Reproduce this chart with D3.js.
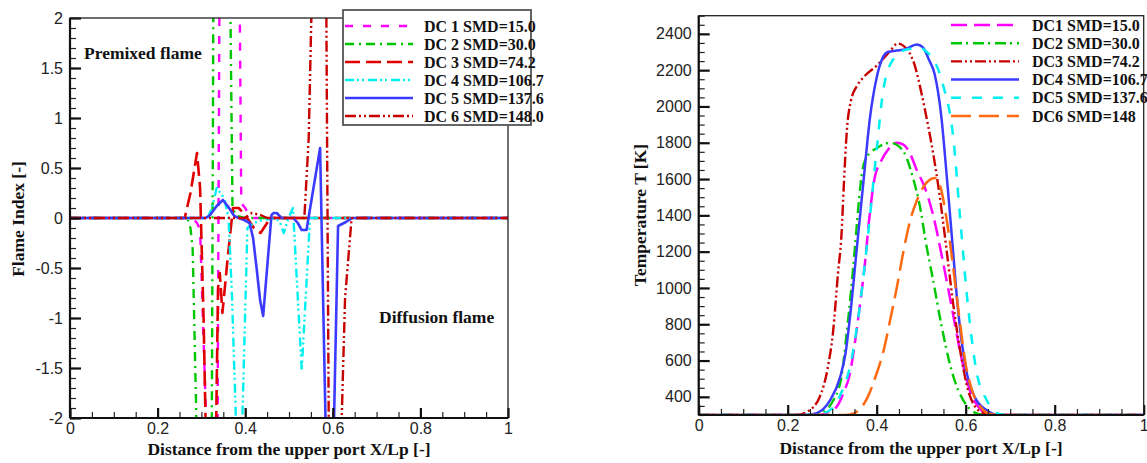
<!DOCTYPE html>
<html>
<head>
<meta charset="utf-8">
<script src="https://cdn.jsdelivr.net/npm/d3@7"></script>
<style>
  body { margin: 0; background: #fff; }
  .tick text { font-family: "Liberation Sans", Arial, sans-serif; font-size: 16px; fill: #222; }
  .ttl { font-family: "Liberation Serif", "Times New Roman", serif; font-weight: bold; fill: #111; }
</style>
</head>
<body>
<svg id="chart" width="1147" height="463"></svg>
<script>
// ---- left panel: flame index ----
var fiNames = ["DC 1 SMD=15.0", "DC 2 SMD=30.0", "DC 3 SMD=74.2", "DC 4 SMD=106.7", "DC 5 SMD=137.6", "DC 6 SMD=148.0"];
var fiXTicks = [0, 0.2, 0.4, 0.6, 0.8, 1];
var fiYTicks = [-2, -1.5, -1, -0.5, 0, 0.5, 1, 1.5, 2];

var fiDC1 = [[0,0],[0.28,0],[0.29,-0.05],[0.297,-0.12],[0.315,-2.6],[0.336,-3],[0.342,3],[0.386,3],[0.391,0.15],[0.40,0.1],[0.41,0.02],[0.42,0],[1,0]];
var fiDC2 = [[0,0],[0.268,0],[0.275,-0.1],[0.28,-0.3],[0.29,-2.3],[0.3,-3],[0.323,-3],[0.328,3],[0.364,3],[0.371,0.1],[0.38,0.02],[0.40,0],[1,0]];
var fiDC3 = [[0,0],[0.262,0],[0.275,0.25],[0.29,0.65],[0.297,0.3],[0.305,-1],[0.312,-2.6],[0.332,-2.6],[0.338,-0.7],[0.342,-0.55],[0.348,-0.95],[0.36,-0.4],[0.372,0.1],[0.385,0.1],[0.40,0.03],[0.42,-0.1],[0.435,-0.15],[0.45,-0.05],[0.46,0],[1,0]];
var fiDC4 = [[0,0],[0.315,0],[0.325,0.12],[0.335,0.3],[0.352,0.2],[0.362,0],[0.37,-0.8],[0.383,-2.6],[0.39,-2.6],[0.405,-0.1],[0.42,-0.05],[0.44,-0.02],[0.47,0],[0.48,-0.05],[0.488,-0.15],[0.497,-0.02],[0.509,0.1],[0.529,-1.52],[0.548,0],[1,0]];
var fiDC5 = [[0,0],[0.31,0],[0.32,0.03],[0.335,0.12],[0.349,0.18],[0.36,0.12],[0.375,0.02],[0.385,0],[0.398,-0.02],[0.41,-0.05],[0.418,-0.2],[0.426,-0.5],[0.434,-0.82],[0.441,-0.98],[0.46,0.03],[0.465,0.05],[0.472,0.05],[0.483,0],[0.51,0],[0.52,-0.05],[0.529,-0.12],[0.54,-0.12],[0.571,0.7],[0.586,-2.6],[0.6,-2.6],[0.612,-0.08],[0.63,-0.04],[0.645,0],[1,0]];
var fiDC6 = [[0,0],[0.40,0],[0.415,0.05],[0.435,0.03],[0.45,0],[0.535,0],[0.545,0.8],[0.556,3],[0.584,3],[0.592,-3],[0.614,-3],[0.628,-0.8],[0.643,0],[1,0]];

// ---- right panel: temperature ----
var tNames = ["DC1 SMD=15.0", "DC2 SMD=30.0", "DC3 SMD=74.2", "DC4 SMD=106.7", "DC5 SMD=137.6", "DC6 SMD=148"];
var tXTicks = [0, 0.2, 0.4, 0.6, 0.8, 1];
var tYTicks = [400, 600, 800, 1000, 1200, 1400, 1600, 1800, 2000, 2200, 2400];

var tDC1 = [[0,300],[0.27,300],[0.29,315],[0.31,345],[0.325,420],[0.34,530],[0.35,680],[0.362,900],[0.372,1100],[0.385,1420],[0.395,1600],[0.41,1700],[0.425,1760],[0.445,1800],[0.46,1790],[0.475,1740],[0.49,1650],[0.507,1560],[0.527,1400],[0.55,1130],[0.572,850],[0.59,620],[0.61,430],[0.63,340],[0.65,305],[0.67,300],[1,300]];
var tDC2 = [[0,300],[0.25,300],[0.28,320],[0.30,370],[0.32,500],[0.332,740],[0.343,1000],[0.352,1250],[0.36,1480],[0.368,1650],[0.38,1730],[0.40,1770],[0.43,1800],[0.45,1780],[0.465,1730],[0.48,1620],[0.497,1450],[0.512,1230],[0.527,1040],[0.545,800],[0.57,530],[0.60,360],[0.63,305],[0.65,300],[1,300]];
var tDC3 = [[0,300],[0.22,300],[0.245,320],[0.272,400],[0.29,560],[0.302,760],[0.313,1080],[0.321,1300],[0.326,1560],[0.333,1870],[0.342,2030],[0.355,2110],[0.37,2160],[0.40,2225],[0.43,2305],[0.447,2347],[0.468,2315],[0.485,2230],[0.50,2080],[0.515,1900],[0.527,1740],[0.542,1500],[0.557,1210],[0.572,910],[0.59,620],[0.605,440],[0.62,350],[0.64,310],[0.66,300],[1,300]];
var tDC4 = [[0,300],[0.24,300],[0.265,310],[0.295,380],[0.318,510],[0.33,640],[0.34,840],[0.355,1210],[0.37,1580],[0.385,1940],[0.40,2160],[0.412,2260],[0.425,2300],[0.445,2308],[0.465,2316],[0.49,2342],[0.504,2325],[0.517,2260],[0.53,2180],[0.545,1950],[0.558,1600],[0.57,1250],[0.582,900],[0.6,560],[0.62,400],[0.645,330],[0.675,300],[1,300]];
var tDC5 = [[0,300],[0.255,300],[0.28,310],[0.302,341],[0.32,420],[0.34,567],[0.362,898],[0.381,1303],[0.40,1763],[0.415,2094],[0.437,2259],[0.467,2314],[0.497,2323],[0.515,2295],[0.53,2250],[0.55,2110],[0.572,1830],[0.587,1400],[0.606,880],[0.625,530],[0.647,383],[0.67,310],[0.69,300],[1,300]];
var tDC6 = [[0,300],[0.33,300],[0.35,310],[0.365,340],[0.38,400],[0.40,530],[0.415,650],[0.43,820],[0.445,1000],[0.46,1200],[0.475,1370],[0.49,1480],[0.497,1520],[0.512,1580],[0.531,1606],[0.545,1540],[0.557,1380],[0.57,1150],[0.585,850],[0.6,580],[0.615,430],[0.635,340],[0.655,305],[0.68,300],[1,300]];

var svg = d3.select("#chart");

function minorTicks(lo, hi, step) {
  var n = Math.round((hi - lo) / step);
  return d3.range(n + 1).map(function(i) { return +(lo + i * step).toFixed(4); });
}

// draws ticks (pointing inward), labels and the frame
function drawAxes(g, x, y, xMajor, xMinor, yMajor, yMinor) {
  var x0 = x.range()[0], y0 = y.range()[0];
  var fmt = function(d) { return String(d); };

  g.append("g").attr("transform", "translate(" + x0 + ",0)")
    .call(d3.axisLeft(y).tickValues(yMinor).tickSizeInner(-6).tickSizeOuter(0).tickFormat(""))
    .call(function(a) { a.select(".domain").remove(); a.selectAll("line").attr("stroke", "#222").attr("stroke-width", 1.2); });
  g.append("g").attr("transform", "translate(" + x0 + ",0)")
    .call(d3.axisLeft(y).tickValues(yMajor).tickSizeInner(-11).tickSizeOuter(0).tickPadding(7).tickFormat(fmt))
    .call(function(a) { a.select(".domain").remove(); a.selectAll("line").attr("stroke", "#111").attr("stroke-width", 2.2); });

  g.append("g").attr("transform", "translate(0," + y0 + ")")
    .call(d3.axisBottom(x).tickValues(xMinor).tickSizeInner(-6).tickSizeOuter(0).tickFormat(""))
    .call(function(a) { a.select(".domain").remove(); a.selectAll("line").attr("stroke", "#222").attr("stroke-width", 1.2); });
  g.append("g").attr("transform", "translate(0," + y0 + ")")
    .call(d3.axisBottom(x).tickValues(xMajor).tickSizeInner(-10).tickSizeOuter(0).tickPadding(5).tickFormat(fmt))
    .call(function(a) { a.select(".domain").remove(); a.selectAll("line").attr("stroke", "#111").attr("stroke-width", 2.2); });

  var xr = x.range(), yr = y.range();
  g.append("rect")
    .attr("x", xr[0]).attr("y", yr[1])
    .attr("width", xr[1] - xr[0]).attr("height", yr[0] - yr[1])
    .attr("fill", "none").attr("stroke", "#222").attr("stroke-width", 1.3);
  g.append("line").attr("x1", xr[0]).attr("x2", xr[0]).attr("y1", yr[1]).attr("y2", yr[0])
    .attr("stroke", "#111").attr("stroke-width", 2.2);
  g.append("line").attr("x1", xr[0]).attr("x2", xr[1]).attr("y1", yr[0]).attr("y2", yr[0])
    .attr("stroke", "#111").attr("stroke-width", 2.2);
}

function drawSeries(g, x, y, series, styles, curve, clipId) {
  var line = d3.line()
    .x(function(d) { return x(d[0]); })
    .y(function(d) { return y(d[1]); })
    .curve(curve);
  g.append("g").attr("clip-path", "url(#" + clipId + ")")
    .selectAll("path")
    .data(series)
    .enter().append("path")
    .attr("d", line)
    .attr("fill", "none")
    .attr("stroke", function(d, i) { return styles[i].color; })
    .attr("stroke-width", function(d, i) { return styles[i].width; })
    .attr("stroke-dasharray", function(d, i) { return styles[i].dash; })
    .attr("stroke-linejoin", "round");
}

function drawLegend(g, names, styles, lx, ty, step, textX) {
  var rows = g.selectAll(".lg").data(names).enter().append("g").attr("class", "lg")
    .attr("transform", function(d, i) { return "translate(0," + (ty + i * step) + ")"; });
  rows.append("line")
    .attr("x1", lx).attr("x2", lx + 68).attr("y1", 0).attr("y2", 0)
    .attr("stroke", function(d, i) { return styles[i].color; })
    .attr("stroke-width", function(d, i) { return styles[i].width; })
    .attr("stroke-dasharray", function(d, i) { return styles[i].dash; });
  rows.append("text")
    .attr("class", "ttl")
    .attr("x", textX).attr("y", 0).attr("dy", "0.35em")
    .style("font-size", "16px")
    .text(function(d) { return d; });
}

var defs = svg.append("defs");

// ===== left chart =====
var fx = d3.scaleLinear().domain([0, 1]).range([70, 508]);
var fy = d3.scaleLinear().domain([-2, 2]).range([418, 18]);
defs.append("clipPath").attr("id", "clipL").append("rect")
  .attr("x", 70).attr("y", 18).attr("width", 438).attr("height", 400);

var fStyles = [
  { color: "#ff00ff", width: 2.4, dash: "8,10" },
  { color: "#00c800", width: 2.4, dash: "9,5,2,5" },
  { color: "#e00000", width: 2.6, dash: "15,6" },
  { color: "#00f0f0", width: 2.4, dash: "9,3,2,3,2,4" },
  { color: "#3b3bff", width: 2.6, dash: null },
  { color: "#c80000", width: 2.4, dash: "11,3,2,3,2,3" }
];

var gl = svg.append("g");
drawSeries(gl, fx, fy, [fiDC1, fiDC2, fiDC3, fiDC4, fiDC5, fiDC6], fStyles, d3.curveLinear, "clipL");
drawAxes(gl, fx, fy, fiXTicks, minorTicks(0, 1, 0.05), fiYTicks, minorTicks(-2, 2, 0.1));

gl.append("text").attr("class", "ttl").attr("x", 84).attr("y", 59).style("font-size", "17.5px").text("Premixed flame");
gl.append("text").attr("class", "ttl").attr("x", 379).attr("y", 323).style("font-size", "17.5px").text("Diffusion flame");

gl.append("rect").attr("x", 343).attr("y", 10).attr("width", 188).attr("height", 115)
  .attr("fill", "#fff").attr("stroke", "#555").attr("stroke-width", 1.8);
drawLegend(gl, fiNames, fStyles, 345, 26, 18, 424);

gl.append("text").attr("class", "ttl").attr("text-anchor", "middle")
  .attr("x", 289).attr("y", 455).style("font-size", "17.5px")
  .text("Distance from the upper port X/Lp [-]");
gl.append("text").attr("class", "ttl").attr("text-anchor", "middle")
  .attr("transform", "translate(24,219) rotate(-90)").style("font-size", "17.5px")
  .text("Flame Index [-]");

// ===== right chart =====
var tx = d3.scaleLinear().domain([0, 1]).range([698.7, 1143.7]);
var ty = d3.scaleLinear().domain([300, 2500]).range([415, 15.7]);
defs.append("clipPath").attr("id", "clipR").append("rect")
  .attr("x", 698.7).attr("y", 15.7).attr("width", 445).attr("height", 399.3);

var tStyles = [
  { color: "#ff00ff", width: 2.5, dash: "16,7" },
  { color: "#00c800", width: 2.4, dash: "11,4,2,5" },
  { color: "#c80000", width: 2.4, dash: "11,3,2,3,2,3" },
  { color: "#3b3bff", width: 2.5, dash: null },
  { color: "#00f0f0", width: 2.5, dash: "10,11" },
  { color: "#ff6a10", width: 2.5, dash: "20,8" }
];

var gr = svg.append("g");
drawSeries(gr, tx, ty, [tDC1, tDC2, tDC3, tDC4, tDC5, tDC6], tStyles, d3.curveMonotoneX, "clipR");
drawAxes(gr, tx, ty, tXTicks, minorTicks(0, 1, 0.05), tYTicks, minorTicks(300, 2500, 50));
drawLegend(gr, tNames, tStyles, 951, 25, 18.2, 1032);

gr.append("text").attr("class", "ttl").attr("text-anchor", "middle")
  .attr("x", 921).attr("y", 454).style("font-size", "17.5px")
  .text("Distance from the upper port X/Lp [-]");
gr.append("text").attr("class", "ttl").attr("text-anchor", "middle")
  .attr("transform", "translate(646,215) rotate(-90)").style("font-size", "17.5px")
  .text("Temperature T [K]");
</script>
</body>
</html>
